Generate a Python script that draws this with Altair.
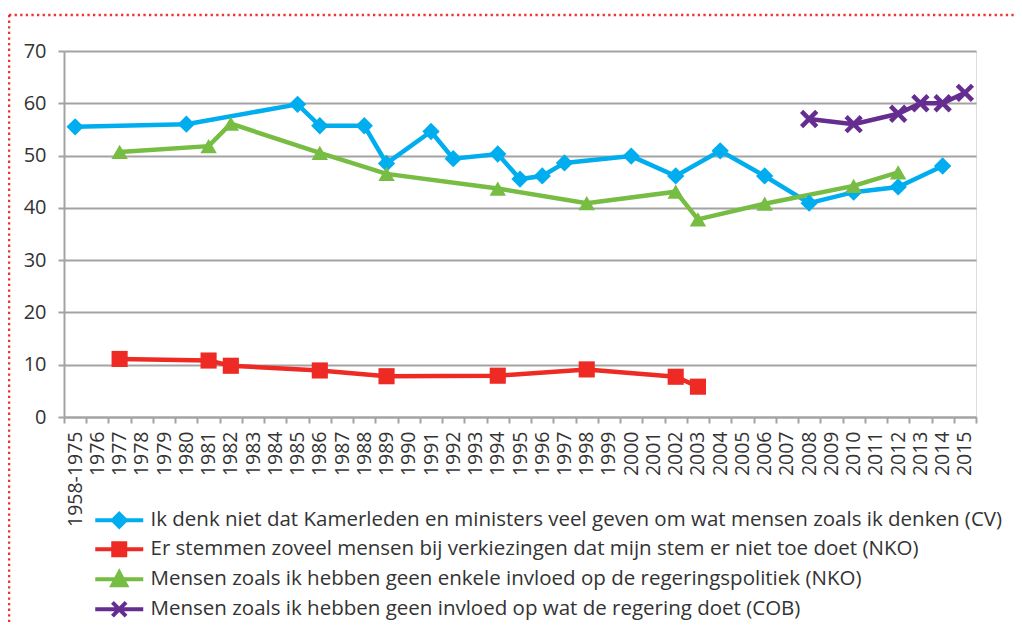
import altair as alt
import pandas as pd

categories = ["1958-1975"] + [str(y) for y in range(1976, 2016)]

series_names = [
    "Ik denk niet dat Kamerleden en ministers veel geven om wat mensen zoals ik denken (CV)",
    "Er stemmen zoveel mensen bij verkiezingen dat mijn stem er niet toe doet (NKO)",
    "Mensen zoals ik hebben geen enkele invloed op de regeringspolitiek (NKO)",
    "Mensen zoals ik hebben geen invloed op wat de regering doet (COB)",
]
series_colors = ["#00aeef", "#ee2a24", "#77bc43", "#652d90"]

cv_years = ["1958-1975", "1980", "1985", "1986", "1988", "1989", "1991", "1992", "1994",
            "1995", "1996", "1997", "2000", "2002", "2004", "2006", "2008", "2010", "2012", "2014"]
cv_values = [55.5, 56, 59.8, 55.7, 55.7, 48.5, 54.6, 49.4, 50.3,
             45.5, 46.1, 48.6, 49.9, 46.1, 50.9, 46.1, 40.9, 43, 44, 48]

stem_years = ["1977", "1981", "1982", "1986", "1989", "1994", "1998", "2002", "2003"]
stem_values = [11.1, 10.8, 9.8, 8.9, 7.8, 7.9, 9.1, 7.7, 5.8]

invloed_years = ["1977", "1981", "1982", "1986", "1989", "1994", "1998", "2002", "2003",
                 "2006", "2010", "2012"]
invloed_values = [50.7, 51.8, 56.1, 50.5, 46.5, 43.7, 40.9, 43.1, 37.8,
                  40.8, 44.2, 46.8]

cob_years = ["2008", "2010", "2012", "2013", "2014", "2015"]
cob_values = [57, 56, 58, 60, 60, 62]

rows = []
for name, ys, vs in zip(series_names,
                        [cv_years, stem_years, invloed_years, cob_years],
                        [cv_values, stem_values, invloed_values, cob_values]):
    for y, v in zip(ys, vs):
        rows.append({"series": name, "year": y, "value": v})
df = pd.DataFrame(rows)

FONT = "Open Sans"
TXT = "#333333"
GRID = "#a3a3a3"

x_enc = alt.X(
    "year:N",
    sort=categories,
    scale=alt.Scale(type="band", domain=categories, paddingInner=0, paddingOuter=0),
    axis=alt.Axis(
        title=None, labelAngle=-90, tickBand="extent", grid=False,
        domainColor=GRID, domainWidth=2, tickColor=GRID, tickWidth=2, tickSize=6,
        labelFont=FONT, labelFontSize=19.5, labelColor=TXT, labelPadding=8,
    ),
)
y_enc = alt.Y(
    "value:Q",
    scale=alt.Scale(domain=[0, 70], nice=False),
    axis=alt.Axis(
        title=None, values=list(range(0, 71, 10)), grid=True, gridColor=GRID, gridWidth=2,
        domainColor=GRID, domainWidth=2, tickColor=GRID, tickWidth=2, tickSize=6,
        labelFont=FONT, labelFontSize=20, labelColor=TXT, labelPadding=12,
    ),
)

marker_shapes = ["diamond", "square", "triangle-up", "M-1,-1L1,1M-1,1L1,-1"]
marker_sizes = [300, 260, 270, 230]

layers = []
for i, name in enumerate(series_names):
    base = alt.Chart(df).transform_filter(alt.datum.series == name)
    layers.append(base.mark_line(color=series_colors[i], strokeWidth=4.5).encode(x=x_enc, y=y_enc))
for i, name in enumerate(series_names):
    base = alt.Chart(df).transform_filter(alt.datum.series == name)
    if i == 3:
        pt = base.mark_point(shape=marker_shapes[i], filled=False, color=series_colors[i],
                             size=marker_sizes[i], strokeWidth=4.5, opacity=1)
    else:
        pt = base.mark_point(shape=marker_shapes[i], filled=True, color=series_colors[i],
                             size=marker_sizes[i], opacity=1)
    layers.append(pt.encode(x=x_enc, y=y_enc))

# legend-only layer (no marks drawn)
legend_shapes = [
    "M-3,0H3M0,-0.8L0.8,0L0,0.8L-0.8,0Z",
    "M-3,0H3M-0.75,-0.75H0.75V0.75H-0.75Z",
    "M-3,0H3M0,-0.85L0.85,0.75H-0.85Z",
    "M-3,0H3M-0.85,-0.85L0.85,0.85M-0.85,0.85L0.85,-0.85",
]
leg = alt.Legend(
    title=None, orient="none", legendX=45, legendY=459, direction="vertical",
    labelFont=FONT, labelFontSize=20.5, labelColor=TXT, labelOffset=21,
    symbolSize=256, symbolStrokeWidth=4, symbolOpacity=1, rowPadding=0, labelLimit=1000,
)
legend_layer = alt.Chart(df).transform_filter("datum.value < -1000").mark_point(
    filled=True, opacity=1).encode(
    x=x_enc, y=y_enc,
    fill=alt.Fill("series:N", scale=alt.Scale(domain=series_names, range=series_colors), legend=leg),
    stroke=alt.Stroke("series:N", scale=alt.Scale(domain=series_names, range=series_colors), legend=leg),
    shape=alt.Shape("series:N", scale=alt.Scale(domain=series_names, range=legend_shapes), legend=leg),
)
layers.append(legend_layer)

# dotted page border (decoration)
dummy = pd.DataFrame({"k": [0]})
border_color = "#ee3333"
left_border = alt.Chart(dummy).mark_rule(color=border_color, strokeWidth=2.5, strokeDash=[2.3, 3.3]).encode(
    x=alt.value(-55), y=alt.value(-36), y2=alt.value(590))
top_border = alt.Chart(dummy).mark_rule(color=border_color, strokeWidth=2.5, strokeDash=[2.3, 3.3]).encode(
    x=alt.value(-55), x2=alt.value(960), y=alt.value(-36))
layers += [left_border, top_border]

chart = alt.layer(*layers).properties(
    width=912, height=366,
    autosize=alt.AutoSizeParams(type="none"),
    padding={"left": 56, "top": 43, "right": 38, "bottom": 205},
).configure_view(stroke=None).configure(background="white")

chart.save("out.html", embed_options={"renderer": "svg", "actions": False})
